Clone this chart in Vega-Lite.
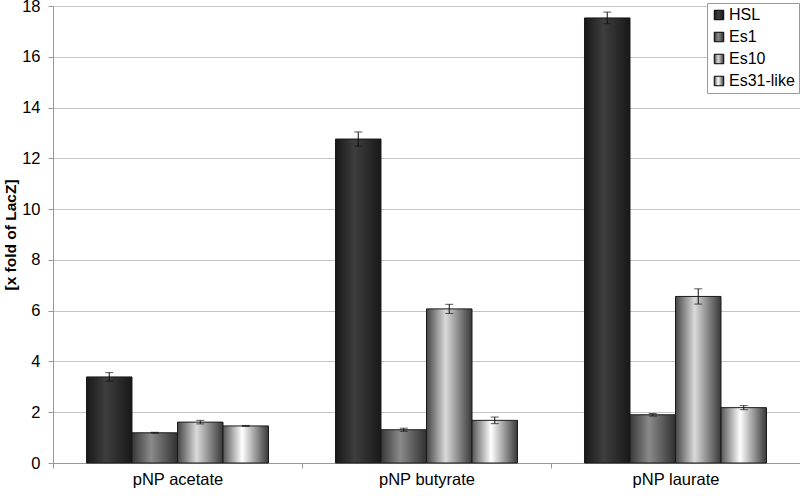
{
  "$schema": "https://vega.github.io/schema/vega-lite/v6.json",
  "width": 747,
  "height": 457,
  "autosize": {"type": "none"},
  "padding": {"left": 53, "top": 6, "right": 0, "bottom": 33},
  "background": "white",
  "config": {
    "font": "Liberation Sans",
    "view": {"stroke": null},
    "axis": {"labelFont": "Liberation Sans", "labelFontSize": 16.5, "labelColor": "#000", "titleFont": "Liberation Sans"}
  },
  "data": {"values": [
    {"substrate": "pNP acetate", "series": "HSL", "value": 3.39, "lo": 3.22, "hi": 3.56},
    {"substrate": "pNP acetate", "series": "Es1", "value": 1.19, "lo": 1.17, "hi": 1.21},
    {"substrate": "pNP acetate", "series": "Es10", "value": 1.61, "lo": 1.54, "hi": 1.68},
    {"substrate": "pNP acetate", "series": "Es31-like", "value": 1.46, "lo": 1.44, "hi": 1.48},
    {"substrate": "pNP butyrate", "series": "HSL", "value": 12.76, "lo": 12.48, "hi": 13.04},
    {"substrate": "pNP butyrate", "series": "Es1", "value": 1.31, "lo": 1.25, "hi": 1.37},
    {"substrate": "pNP butyrate", "series": "Es10", "value": 6.07, "lo": 5.89, "hi": 6.25},
    {"substrate": "pNP butyrate", "series": "Es31-like", "value": 1.68, "lo": 1.55, "hi": 1.81},
    {"substrate": "pNP laurate", "series": "HSL", "value": 17.53, "lo": 17.3, "hi": 17.76},
    {"substrate": "pNP laurate", "series": "Es1", "value": 1.9, "lo": 1.85, "hi": 1.95},
    {"substrate": "pNP laurate", "series": "Es10", "value": 6.56, "lo": 6.26, "hi": 6.86},
    {"substrate": "pNP laurate", "series": "Es31-like", "value": 2.18, "lo": 2.1, "hi": 2.26}
  ]},
  "encoding": {
    "x": {
      "field": "substrate", "type": "nominal", "sort": null,
      "scale": {"paddingInner": 0, "paddingOuter": 0},
      "axis": {"title": null, "labelAngle": 0, "tickBand": "extent", "domainColor": "#999", "tickColor": "#999", "tickSize": 5, "labelPadding": 3, "grid": false}
    },
    "xOffset": {
      "field": "series", "type": "nominal", "sort": null,
      "scale": {"domain": ["HSL", "Es1", "Es10", "Es31-like"], "paddingInner": 0, "paddingOuter": 0.736}
    }
  },
  "layer": [
    {
      "mark": {"type": "bar", "stroke": "#1a1a1a", "strokeWidth": 1},
      "encoding": {
        "y": {
          "field": "value", "type": "quantitative",
          "scale": {"domain": [0, 18], "nice": false},
          "axis": {
            "title": "[x fold of LacZ]", "titleFontSize": 15.5, "titleFontWeight": "bold", "titleColor": "#000",
            "titleX": -35, "values": [0, 2, 4, 6, 8, 10, 12, 14, 16, 18],
            "domainColor": "#999", "tickColor": "#999", "tickSize": 5, "labelPadding": 8,
            "gridColor": "#c4c4c4", "gridWidth": 1
          }
        },
        "color": {
          "field": "series", "type": "nominal", "sort": null,
          "scale": {
            "domain": ["HSL", "Es1", "Es10", "Es31-like"],
            "range": [
              {"expr": "{gradient: 'linear', x1: 0, y1: 0, x2: 1, y2: 0, stops: [{offset: 0, color: '#181818'}, {offset: 0.42, color: '#3e3e3e'}, {offset: 1, color: '#181818'}]}"},
              {"expr": "{gradient: 'linear', x1: 0, y1: 0, x2: 1, y2: 0, stops: [{offset: 0, color: '#383838'}, {offset: 0.42, color: '#8a8a8a'}, {offset: 1, color: '#303030'}]}"},
              {"expr": "{gradient: 'linear', x1: 0, y1: 0, x2: 1, y2: 0, stops: [{offset: 0, color: '#454545'}, {offset: 0.42, color: '#dadada'}, {offset: 1, color: '#383838'}]}"},
              {"expr": "{gradient: 'linear', x1: 0, y1: 0, x2: 1, y2: 0, stops: [{offset: 0, color: '#555555'}, {offset: 0.42, color: '#ffffff'}, {offset: 1, color: '#383838'}]}"}
            ]
          },
          "legend": {
            "title": null, "orient": "none", "legendX": 654, "legendY": -3,
            "symbolType": "square", "symbolSize": 90, "symbolStrokeColor": "#000", "symbolStrokeWidth": 1, "symbolOpacity": 1,
            "labelFontSize": 16, "labelFont": "Liberation Sans", "labelColor": "#000", "labelOffset": 2,
            "rowPadding": 6, "padding": 4, "strokeColor": "#999", "fillColor": "white"
          }
        }
      }
    },
    {
      "mark": {"type": "rule", "color": "#111", "strokeWidth": 1},
      "encoding": {"y": {"field": "lo", "type": "quantitative"}, "y2": {"field": "hi"}}
    },
    {
      "mark": {"type": "tick", "color": "#111", "size": 8, "thickness": 1},
      "encoding": {"y": {"field": "lo", "type": "quantitative"}}
    },
    {
      "mark": {"type": "tick", "color": "#111", "size": 8, "thickness": 1},
      "encoding": {"y": {"field": "hi", "type": "quantitative"}}
    }
  ]
}
